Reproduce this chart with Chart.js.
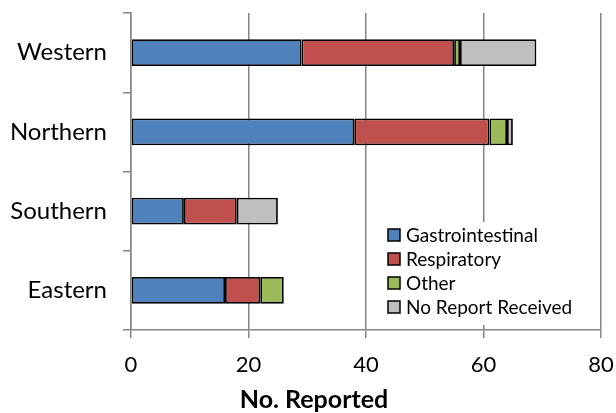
<!DOCTYPE html>
<html>
<head>
<meta charset="utf-8">
<script src="https://cdn.jsdelivr.net/npm/chart.js@4"></script>
<style>
  html, body { margin: 0; padding: 0; background: #fff; }
  #wrap { width: 616px; height: 413px; position: relative; }
</style>
</head>
<body>
<div id="wrap"><canvas id="myChart" width="616" height="413"></canvas></div>
<script>
  // Chart data
  const regions = ['Western', 'Northern', 'Southern', 'Eastern'];
  const gastro = [29, 38, 9, 16];
  const respiratory = [26, 23, 9, 6];
  const other = [1, 3, 0, 4];
  const noReport = [13, 1, 7, 0];
  const xTicks = [0, 20, 40, 60, 80];
  const seriesNames = ['Gastrointestinal', 'Respiratory', 'Other', 'No Report Received'];
  const seriesColors = ['#4F81BD', '#C0504D', '#9BBB59', '#BFBFBF'];

  const FONT = 'Lato, "Open Sans", sans-serif';
  const GRID = '#868686';

  const datasets = [gastro, respiratory, other, noReport].map((vals, i) => ({
    label: seriesNames[i],
    data: vals,
    backgroundColor: seriesColors[i],
    borderColor: '#000',
    borderWidth: (c) => (c.raw ? 1.8 : 0),
    borderSkipped: false,
    categoryPercentage: 1,
    barPercentage: 0.34
  }));

  // Legend box and axis title drawn over the chart
  const extras = {
    id: 'extras',
    afterDraw(chart) {
      const ctx = chart.ctx;
      ctx.save();
      ctx.fillStyle = '#fff';
      ctx.fillRect(383, 222, 214, 103);
      ctx.font = '19px ' + FONT;
      ctx.textBaseline = 'middle';
      seriesNames.forEach((name, i) => {
        const y = 235 + i * 24;
        ctx.fillStyle = seriesColors[i];
        ctx.fillRect(388, y - 6, 12, 12);
        ctx.strokeStyle = '#000';
        ctx.lineWidth = 1.5;
        ctx.strokeRect(388, y - 6, 12, 12);
        ctx.fillStyle = '#000';
        ctx.fillText(name, 406, y + 1);
      });
      ctx.font = 'bold 25px ' + FONT;
      ctx.textAlign = 'center';
      ctx.fillText('No. Reported', 314, 400);
      ctx.restore();
    }
  };

  const ctx = document.getElementById('myChart').getContext('2d');
  const myChart = new Chart(ctx, {
    type: 'bar',
    data: { labels: regions, datasets: datasets },
    options: {
      indexAxis: 'y',
      responsive: false,
      animation: false,
      layout: { padding: { top: 13, right: 15, left: 0, bottom: 0 } },
      plugins: { legend: { display: false }, tooltip: { enabled: false } },
      scales: {
        x: {
          stacked: true,
          min: 0,
          max: 80,
          afterBuildTicks: (s) => { s.ticks = xTicks.map(v => ({ value: v })); },
          afterFit: (s) => { s.height = 83; s.paddingLeft = 0; s.paddingRight = 0; },
          grid: { color: GRID, lineWidth: 1.5, tickLength: 8 },
          border: { color: GRID, width: 1.5 },
          ticks: { color: '#000', font: { family: FONT, size: 22 }, padding: 14 }
        },
        y: {
          stacked: true,
          afterFit: (s) => { s.width = 131; s.paddingTop = 0; s.paddingBottom = 0; },
          grid: { color: GRID, lineWidth: 1.5, tickLength: 8, drawOnChartArea: false, offset: true },
          border: { color: GRID, width: 1.5 },
          ticks: { color: '#000', font: { family: FONT, size: 24 }, padding: 16 }
        }
      }
    },
    plugins: [extras]
  });
</script>
</body>
</html>
